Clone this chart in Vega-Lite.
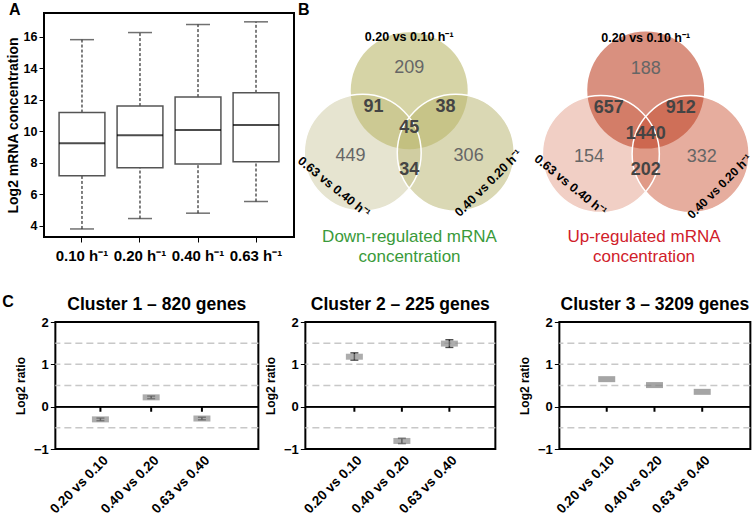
{
 "$schema": "https://vega.github.io/schema/vega-lite/v6.json",
 "background": "white",
 "padding": {"left": 2, "top": 1, "right": 0, "bottom": 0},
 "config": {"font": "Liberation Sans", "view": {"stroke": null}, "axis": {"grid": false}, "title": {"color": "black"}},
 "spacing": 28,
 "center": true,
 "resolve": {"scale": {"color": "independent"}},
 "vconcat": [
  {
   "spacing": 0,
   "resolve": {"scale": {"color": "independent"}},
   "hconcat": [
    {
     "width": 250, "height": 224,
     "title": {"text": "A", "anchor": "start", "frame": "group", "dx": -35, "offset": -18, "baseline": "alphabetic", "fontSize": 16, "fontWeight": "bold"},
     "view": {"stroke": "black", "strokeWidth": 2},
     "data": {"values": [
      {"rate": "0.10 h⁻¹", "low": 3.81, "q1": 7.18, "median": 9.24, "q3": 11.19, "high": 15.81},
      {"rate": "0.20 h⁻¹", "low": 4.47, "q1": 7.69, "median": 9.75, "q3": 11.6, "high": 16.26},
      {"rate": "0.40 h⁻¹", "low": 4.81, "q1": 7.92, "median": 10.09, "q3": 12.17, "high": 16.77},
      {"rate": "0.63 h⁻¹", "low": 5.55, "q1": 8.07, "median": 10.4, "q3": 12.44, "high": 16.94}
     ]},
     "encoding": {
      "x": {"field": "rate", "type": "nominal", "sort": null, "scale": {"paddingInner": 0, "paddingOuter": 0.155},
            "axis": {"title": null, "labelAngle": 0, "domain": false, "tickSize": 5, "tickColor": "black", "labelFontSize": 15, "labelFontWeight": "bold", "labelColor": "black", "labelPadding": 6}}
     },
     "layer": [
      {"mark": {"type": "rule", "strokeDash": [3, 2], "color": "black", "strokeWidth": 1},
       "encoding": {"y": {"field": "q3", "type": "quantitative", "scale": {"domain": [3.3, 17.5], "nice": false, "zero": false},
                          "axis": {"title": "Log2 mRNA concentration", "titleFontSize": 14, "titleFontWeight": "bold", "titleColor": "black", "titlePadding": 3,
                                   "values": [4, 6, 8, 10, 12, 14, 16], "labelOverlap": false, "labelFontSize": 12.5, "labelFontWeight": "bold", "labelColor": "black", "labelPadding": 2,
                                   "tickSize": 5, "tickColor": "black", "domain": false, "grid": false}},
                    "y2": {"field": "high"}}},
      {"mark": {"type": "rule", "strokeDash": [3, 2], "color": "black", "strokeWidth": 1},
       "encoding": {"y": {"field": "low", "type": "quantitative",
                          "axis": {"title": "Log2 mRNA concentration", "titleFontSize": 14, "titleFontWeight": "bold", "titleColor": "black", "titlePadding": 3,
                                   "values": [4, 6, 8, 10, 12, 14, 16], "labelOverlap": false, "labelFontSize": 12.5, "labelFontWeight": "bold", "labelColor": "black", "labelPadding": 2,
                                   "tickSize": 5, "tickColor": "black", "domain": false, "grid": false}}, "y2": {"field": "q1"}}},
      {"mark": {"type": "tick", "color": "#333", "size": 24, "thickness": 1.5},
       "encoding": {"y": {"field": "high", "type": "quantitative",
                          "axis": {"title": "Log2 mRNA concentration", "titleFontSize": 14, "titleFontWeight": "bold", "titleColor": "black", "titlePadding": 3,
                                   "values": [4, 6, 8, 10, 12, 14, 16], "labelOverlap": false, "labelFontSize": 12.5, "labelFontWeight": "bold", "labelColor": "black", "labelPadding": 2,
                                   "tickSize": 5, "tickColor": "black", "domain": false, "grid": false}}}},
      {"mark": {"type": "tick", "color": "#333", "size": 24, "thickness": 1.5},
       "encoding": {"y": {"field": "low", "type": "quantitative",
                          "axis": {"title": "Log2 mRNA concentration", "titleFontSize": 14, "titleFontWeight": "bold", "titleColor": "black", "titlePadding": 3,
                                   "values": [4, 6, 8, 10, 12, 14, 16], "labelOverlap": false, "labelFontSize": 12.5, "labelFontWeight": "bold", "labelColor": "black", "labelPadding": 2,
                                   "tickSize": 5, "tickColor": "black", "domain": false, "grid": false}}}},
      {"mark": {"type": "bar", "fill": "white", "stroke": "#555", "strokeWidth": 1.5, "width": {"band": 0.79}},
       "encoding": {"y": {"field": "q1", "type": "quantitative",
                          "axis": {"title": "Log2 mRNA concentration", "titleFontSize": 14, "titleFontWeight": "bold", "titleColor": "black", "titlePadding": 3,
                                   "values": [4, 6, 8, 10, 12, 14, 16], "labelOverlap": false, "labelFontSize": 12.5, "labelFontWeight": "bold", "labelColor": "black", "labelPadding": 2,
                                   "tickSize": 5, "tickColor": "black", "domain": false, "grid": false}}, "y2": {"field": "q3"}}},
      {"mark": {"type": "tick", "color": "black", "size": 46, "thickness": 2},
       "encoding": {"y": {"field": "median", "type": "quantitative",
                          "axis": {"title": "Log2 mRNA concentration", "titleFontSize": 14, "titleFontWeight": "bold", "titleColor": "black", "titlePadding": 3,
                                   "values": [4, 6, 8, 10, 12, 14, 16], "labelOverlap": false, "labelFontSize": 12.5, "labelFontWeight": "bold", "labelColor": "black", "labelPadding": 2,
                                   "tickSize": 5, "tickColor": "black", "domain": false, "grid": false}}}}
     ]
    },
    {
     "title": {"text": "B", "anchor": "start", "frame": "group", "dx": 0, "offset": -18, "baseline": "alphabetic", "fontSize": 16, "fontWeight": "bold"},
     "spacing": 0,
     "resolve": {"scale": {"color": "independent", "x": "independent", "y": "independent"}},
     "hconcat": [
      {
       "width": 233, "height": 210,
       "title": {"text": ["Down-regulated mRNA", "concentration"], "orient": "bottom", "anchor": "middle", "frame": "group", "dx": -5, "baseline": "top", "offset": 6, "fontSize": 17, "fontWeight": "normal", "color": "#3a9a3a", "lineHeight": 20},
       "data": {"values": [
        {"kind": "circle", "name": "left", "x": -0.705, "y": -0.31},
        {"kind": "circle", "name": "right", "x": 0.705, "y": -0.31},
        {"kind": "circle", "name": "top", "x": 0, "y": 0.63},
        {"kind": "only", "count": "209", "x": 0, "y": 0.97},
        {"kind": "only", "count": "449", "x": -0.89, "y": -0.36},
        {"kind": "only", "count": "306", "x": 0.9, "y": -0.36},
        {"kind": "overlap", "count": "91", "x": -0.54, "y": 0.38},
        {"kind": "overlap", "count": "38", "x": 0.55, "y": 0.38},
        {"kind": "overlap", "count": "45", "x": 0, "y": 0.065},
        {"kind": "overlap", "count": "34", "x": 0, "y": -0.57},
        {"kind": "setname", "name": "top", "label": "0.20 vs 0.10 h⁻¹", "x": 0, "y": 1.44},
        {"kind": "setname", "name": "left", "label": "0.63 vs 0.40 h⁻¹", "x": -1.14, "y": -0.83},
        {"kind": "setname", "name": "right", "label": "0.40 vs 0.20 h⁻¹", "x": 1.2, "y": -0.77}
       ]},
       "encoding": {
        "x": {"field": "x", "type": "quantitative", "scale": {"domain": [-1.685, 1.845], "nice": false, "zero": false}, "axis": null},
        "y": {"field": "y", "type": "quantitative", "scale": {"domain": [-1.374, 1.808], "nice": false, "zero": false}, "axis": null}
       },
       "layer": [
        {"transform": [{"filter": "datum.kind === 'circle'"}],
         "mark": {"type": "point", "shape": "circle", "filled": true, "size": 13685, "opacity": 1, "fillOpacity": 0.6, "strokeWidth": 0},
         "encoding": {"color": {"field": "name", "type": "nominal", "scale": {"domain": ["top", "left", "right"], "range": ["#bbb76b", "#d5d2b1", "#c1be82"]}, "legend": null}}},
        {"transform": [{"filter": "datum.kind === 'circle' && datum.name !== 'top'"}],
         "mark": {"type": "point", "shape": "circle", "filled": false, "size": 13685, "opacity": 1, "stroke": "white", "strokeWidth": 1.5}},
        {"transform": [{"filter": "datum.kind === 'only'"}],
         "mark": {"type": "text", "fontSize": 18, "color": "#666"},
         "encoding": {"text": {"field": "count", "type": "nominal"}}},
        {"transform": [{"filter": "datum.kind === 'overlap'"}],
         "mark": {"type": "text", "fontSize": 18, "fontWeight": "bold", "color": "#444"},
         "encoding": {"text": {"field": "count", "type": "nominal"}}},
        {"transform": [{"filter": "datum.kind === 'setname' && datum.name === 'top'"}],
         "mark": {"type": "text", "fontSize": 12.5, "fontWeight": "bold", "color": "black"},
         "encoding": {"text": {"field": "label", "type": "nominal"}}},
        {"transform": [{"filter": "datum.kind === 'setname' && datum.name === 'left'"}],
         "mark": {"type": "text", "fontSize": 12.5, "fontWeight": "bold", "color": "black", "angle": 39},
         "encoding": {"text": {"field": "label", "type": "nominal"}}},
        {"transform": [{"filter": "datum.kind === 'setname' && datum.name === 'right'"}],
         "mark": {"type": "text", "fontSize": 12.5, "fontWeight": "bold", "color": "black", "angle": 315},
         "encoding": {"text": {"field": "label", "type": "nominal"}}}
       ]
      },
      {
       "width": 230, "height": 210,
       "title": {"text": ["Up-regulated mRNA", "concentration"], "orient": "bottom", "anchor": "middle", "frame": "group", "dx": -5, "baseline": "top", "offset": 6, "fontSize": 17, "fontWeight": "normal", "color": "#d0202a", "lineHeight": 20},
       "data": {"values": [
        {"kind": "circle", "name": "left", "x": -0.68, "y": -0.33},
        {"kind": "circle", "name": "right", "x": 0.68, "y": -0.33},
        {"kind": "circle", "name": "top", "x": 0, "y": 0.64},
        {"kind": "only", "count": "188", "x": 0, "y": 0.96},
        {"kind": "only", "count": "154", "x": -0.86, "y": -0.37},
        {"kind": "only", "count": "332", "x": 0.85, "y": -0.37},
        {"kind": "overlap", "count": "657", "x": -0.56, "y": 0.37},
        {"kind": "overlap", "count": "912", "x": 0.53, "y": 0.37},
        {"kind": "overlap", "count": "1440", "x": 0, "y": -0.03},
        {"kind": "overlap", "count": "202", "x": 0, "y": -0.57},
        {"kind": "setname", "name": "top", "label": "0.20 vs 0.10 h⁻¹", "x": 0, "y": 1.43},
        {"kind": "setname", "name": "left", "label": "0.63 vs 0.40 h⁻¹", "x": -1.14, "y": -0.8},
        {"kind": "setname", "name": "right", "label": "0.40 vs 0.20 h⁻¹", "x": 1.12, "y": -0.82}
       ]},
       "encoding": {
        "x": {"field": "x", "type": "quantitative", "scale": {"domain": [-1.693, 1.792], "nice": false, "zero": false}, "axis": null},
        "y": {"field": "y", "type": "quantitative", "scale": {"domain": [-1.374, 1.808], "nice": false, "zero": false}, "axis": null}
       },
       "layer": [
        {"transform": [{"filter": "datum.kind === 'circle'"}],
         "mark": {"type": "point", "shape": "circle", "filled": true, "size": 13685, "opacity": 1, "fillOpacity": 0.6, "strokeWidth": 0},
         "encoding": {"color": {"field": "name", "type": "nominal", "scale": {"domain": ["top", "left", "right"], "range": ["#c0462a", "#e8af9e", "#d5765d"]}, "legend": null}}},
        {"transform": [{"filter": "datum.kind === 'circle' && datum.name !== 'top'"}],
         "mark": {"type": "point", "shape": "circle", "filled": false, "size": 13685, "opacity": 1, "stroke": "white", "strokeWidth": 1.5}},
        {"transform": [{"filter": "datum.kind === 'only'"}],
         "mark": {"type": "text", "fontSize": 18, "color": "#666"},
         "encoding": {"text": {"field": "count", "type": "nominal"}}},
        {"transform": [{"filter": "datum.kind === 'overlap'"}],
         "mark": {"type": "text", "fontSize": 18, "fontWeight": "bold", "color": "#444"},
         "encoding": {"text": {"field": "count", "type": "nominal"}}},
        {"transform": [{"filter": "datum.kind === 'setname' && datum.name === 'top'"}],
         "mark": {"type": "text", "fontSize": 12.5, "fontWeight": "bold", "color": "black"},
         "encoding": {"text": {"field": "label", "type": "nominal"}}},
        {"transform": [{"filter": "datum.kind === 'setname' && datum.name === 'left'"}],
         "mark": {"type": "text", "fontSize": 12.5, "fontWeight": "bold", "color": "black", "angle": 39},
         "encoding": {"text": {"field": "label", "type": "nominal"}}},
        {"transform": [{"filter": "datum.kind === 'setname' && datum.name === 'right'"}],
         "mark": {"type": "text", "fontSize": 12, "fontWeight": "bold", "color": "black", "angle": 315},
         "encoding": {"text": {"field": "label", "type": "nominal"}}}
       ]
      }
     ]
    }
   ]
  },
  {
   "title": {"text": "C", "anchor": "start", "frame": "group", "dx": -53, "offset": -28, "baseline": "alphabetic", "fontSize": 16, "fontWeight": "bold"},
   "spacing": 20,
   "hconcat": [
    {
     "spacing": 3,
     "hconcat": [
      {
       "width": 203, "height": 127,
       "title": {"text": "Cluster 1 – 820 genes", "fontSize": 17.5, "fontWeight": "bold", "anchor": "middle", "frame": "group", "offset": -11, "baseline": "alphabetic"},
       "view": {"stroke": "black", "strokeWidth": 2},
       "data": {"values": [
        {"comp": "0.20 vs 0.10", "mean": -0.3, "lo": -0.33, "hi": -0.27},
        {"comp": "0.40 vs 0.20", "mean": 0.22, "lo": 0.19, "hi": 0.25},
        {"comp": "0.63 vs 0.40", "mean": -0.28, "lo": -0.31, "hi": -0.25}
       ]},
       "layer": [
        {"data": {"values": [{"g": -0.5}, {"g": 0.5}, {"g": 1}, {"g": 1.5}]},
         "mark": {"type": "rule", "color": "#c8c8c8", "strokeDash": [7, 4], "strokeWidth": 1.5},
         "encoding": {"y": {"field": "g", "type": "quantitative", "scale": {"domain": [-1, 2], "nice": false, "zero": false},
                            "axis": {"title": "Log2 ratio", "titleFontSize": 12, "titleFontWeight": "bold", "titleColor": "black", "titlePadding": 6,
                                     "values": [-1, 0, 1, 2], "labelFontSize": 13, "labelFontWeight": "bold", "labelColor": "black", "labelPadding": 2,
                                     "tickSize": 5, "tickColor": "black", "domain": false, "grid": false}}}},
        {"mark": {"type": "rule", "color": "black", "strokeWidth": 1.5}, "encoding": {"y": {"datum": 0}}},
        {"encoding": {"x": {"field": "comp", "type": "nominal", "sort": null, "scale": {"type": "point", "padding": 1.137, "align": 0.444},
                            "axis": {"title": null, "labelAngle": -45, "ticks": false, "domain": false, "labelFontSize": 13.5, "labelFontWeight": "bold", "labelColor": "black", "labelPadding": 4}}},
         "layer": [
          {"mark": {"type": "rule", "color": "black", "strokeWidth": 2}, "encoding": {"y": {"datum": 0}, "y2": {"datum": -0.12}}},
          {"mark": {"type": "rule", "color": "black", "strokeWidth": 1.5}, "encoding": {"y": {"field": "lo", "type": "quantitative"}, "y2": {"field": "hi"}}},
          {"mark": {"type": "tick", "color": "black", "size": 8, "thickness": 1.5}, "encoding": {"y": {"field": "lo", "type": "quantitative"}}},
          {"mark": {"type": "tick", "color": "black", "size": 8, "thickness": 1.5}, "encoding": {"y": {"field": "hi", "type": "quantitative"}}},
          {"mark": {"type": "tick", "color": "#8a8a8a", "size": 17, "thickness": 6}, "encoding": {"y": {"field": "mean", "type": "quantitative"}}}
         ]}
       ]
      },
      {
       "width": 190, "height": 127,
       "title": {"text": "Cluster 2 – 225 genes", "fontSize": 17.5, "fontWeight": "bold", "anchor": "middle", "frame": "group", "offset": -11, "baseline": "alphabetic"},
       "view": {"stroke": "black", "strokeWidth": 2},
       "data": {"values": [
        {"comp": "0.20 vs 0.10", "mean": 1.18, "lo": 1.1, "hi": 1.27},
        {"comp": "0.40 vs 0.20", "mean": -0.81, "lo": -0.87, "hi": -0.75},
        {"comp": "0.63 vs 0.40", "mean": 1.49, "lo": 1.4, "hi": 1.58}
       ]},
       "layer": [
        {"data": {"values": [{"g": -0.5}, {"g": 0.5}, {"g": 1}, {"g": 1.5}]},
         "mark": {"type": "rule", "color": "#c8c8c8", "strokeDash": [7, 4], "strokeWidth": 1.5},
         "encoding": {"y": {"field": "g", "type": "quantitative", "scale": {"domain": [-1, 2], "nice": false, "zero": false},
                            "axis": {"title": "Log2 ratio", "titleFontSize": 12, "titleFontWeight": "bold", "titleColor": "black", "titlePadding": 6,
                                     "values": [-1, 0, 1, 2], "labelFontSize": 13, "labelFontWeight": "bold", "labelColor": "black", "labelPadding": 2,
                                     "tickSize": 5, "tickColor": "black", "domain": false, "grid": false}}}},
        {"mark": {"type": "rule", "color": "black", "strokeWidth": 1.5}, "encoding": {"y": {"datum": 0}}},
        {"encoding": {"x": {"field": "comp", "type": "nominal", "sort": null, "scale": {"type": "point", "padding": 1.0, "align": 0.516},
                            "axis": {"title": null, "labelAngle": -45, "ticks": false, "domain": false, "labelFontSize": 13.5, "labelFontWeight": "bold", "labelColor": "black", "labelPadding": 4}}},
         "layer": [
          {"mark": {"type": "rule", "color": "black", "strokeWidth": 2}, "encoding": {"y": {"datum": 0}, "y2": {"datum": -0.12}}},
          {"mark": {"type": "rule", "color": "black", "strokeWidth": 1.5}, "encoding": {"y": {"field": "lo", "type": "quantitative"}, "y2": {"field": "hi"}}},
          {"mark": {"type": "tick", "color": "black", "size": 8, "thickness": 1.5}, "encoding": {"y": {"field": "lo", "type": "quantitative"}}},
          {"mark": {"type": "tick", "color": "black", "size": 8, "thickness": 1.5}, "encoding": {"y": {"field": "hi", "type": "quantitative"}}},
          {"mark": {"type": "tick", "color": "#8a8a8a", "size": 17, "thickness": 6}, "encoding": {"y": {"field": "mean", "type": "quantitative"}}}
         ]}
       ]
      }
     ]
    },
    {
     "width": 191, "height": 127,
     "title": {"text": "Cluster 3 –  3209 genes", "fontSize": 17.5, "fontWeight": "bold", "anchor": "middle", "frame": "group", "offset": -11, "baseline": "alphabetic"},
     "view": {"stroke": "black", "strokeWidth": 2},
     "data": {"values": [
      {"comp": "0.20 vs 0.10", "mean": 0.65, "lo": 0.63, "hi": 0.67},
      {"comp": "0.40 vs 0.20", "mean": 0.51, "lo": 0.49, "hi": 0.53},
      {"comp": "0.63 vs 0.40", "mean": 0.35, "lo": 0.33, "hi": 0.37}
     ]},
     "layer": [
      {"data": {"values": [{"g": -0.5}, {"g": 0.5}, {"g": 1}, {"g": 1.5}]},
       "mark": {"type": "rule", "color": "#c8c8c8", "strokeDash": [7, 4], "strokeWidth": 1.5},
       "encoding": {"y": {"field": "g", "type": "quantitative", "scale": {"domain": [-1, 2], "nice": false, "zero": false},
                          "axis": {"title": "Log2 ratio", "titleFontSize": 12, "titleFontWeight": "bold", "titleColor": "black", "titlePadding": 6,
                                   "values": [-1, 0, 1, 2], "labelFontSize": 13, "labelFontWeight": "bold", "labelColor": "black", "labelPadding": 2,
                                   "tickSize": 5, "tickColor": "black", "domain": false, "grid": false}}}},
      {"mark": {"type": "rule", "color": "black", "strokeWidth": 1.5}, "encoding": {"y": {"datum": 0}}},
      {"encoding": {"x": {"field": "comp", "type": "nominal", "sort": null, "scale": {"type": "point", "padding": 1.0, "align": 0.496},
                          "axis": {"title": null, "labelAngle": -45, "ticks": false, "domain": false, "labelFontSize": 13.5, "labelFontWeight": "bold", "labelColor": "black", "labelPadding": 4}}},
       "layer": [
        {"mark": {"type": "rule", "color": "black", "strokeWidth": 2}, "encoding": {"y": {"datum": 0}, "y2": {"datum": -0.12}}},
        {"mark": {"type": "tick", "color": "#7f7f7f", "size": 17, "thickness": 6}, "encoding": {"y": {"field": "mean", "type": "quantitative"}}}
       ]}
     ]
    }
   ]
  }
 ]
}
